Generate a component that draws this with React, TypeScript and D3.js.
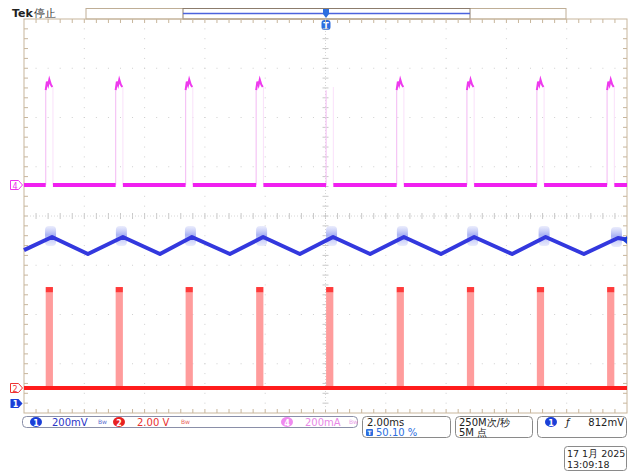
import React from 'react';
import * as d3 from 'd3';

// ---- data ----
// channel 2 (red, V): pulse start times (ms from left edge), width, high level
const redPulseStart = [0.72, 3.04, 5.36, 7.7, 10.02, 12.36, 14.69, 17.01, 19.34];
const redPulseWidth = 0.24;
const redHigh = [3.88, 4.1];
// channel 4 (magenta, mA): baseline gaps at every pulse, visible spike tops
const magGapStart = [0.72, 3.04, 5.36, 7.7, 10.02, 12.36, 14.69, 17.01, 19.34];
const magSpikeStart = [0.72, 3.04, 5.36, 7.7, 12.36, 14.69, 17.01, 19.34];
const magTopOffset = [0, 0.04, 0.08, 0.12, 0.17, 0.22];
const magTopValue = [385, 420, 405, 428, 408, 398];
// channel 1 (blue, mV): triangle vertices
const blueT = [0, 0.93, 2.12, 3.28, 4.51, 5.57, 6.83, 7.93, 9.15, 10.25, 11.48, 12.6, 13.83, 14.93, 16.19, 17.3, 18.57, 19.7, 20];
const blueMv = [625, 678, 609, 678, 609, 678, 609, 678, 609, 678, 609, 678, 609, 678, 609, 678, 609, 674, 668];

const X0 = 24, X1 = 627, Y0 = 19, Y1 = 413;
const DIVH = (Y1 - Y0) / 8;
const DIVW = (X1 - X0) / 10;

export default function App() {
  const x = d3.scaleLinear().domain([0, 20]).range([X0, X1]);
  const y1 = d3.scaleLinear().domain([0, 200]).range([404, 404 - DIVH]);
  const y2 = d3.scaleLinear().domain([0, 2]).range([388, 388 - DIVH]);
  const y4 = d3.scaleLinear().domain([0, 200]).range([185, 185 - DIVH]);

  const gridDots: JSX.Element[] = [];
  for (let i = 1; i < 10; i++) {
    if (i === 5) continue;
    const gx = X0 + i * DIVW;
    for (let k = 1; k < 40; k++) {
      gridDots.push(<rect key={`v${i}-${k}`} x={gx - 0.5} y={Y0 + (k * DIVH) / 5 - 0.5} width={1} height={1} fill="#cfcfcf" />);
    }
  }
  for (let j = 1; j < 8; j++) {
    if (j === 4) continue;
    const gy = Y0 + j * DIVH;
    for (let k = 1; k < 50; k++) {
      gridDots.push(<rect key={`h${j}-${k}`} x={X0 + (k * DIVW) / 5 - 0.5} y={gy - 0.5} width={1} height={1} fill="#cfcfcf" />);
    }
  }
  const ticks: JSX.Element[] = [];
  const cx = X0 + 5 * DIVW, cy = Y0 + 4 * DIVH;
  for (let k = 1; k < 50; k++) {
    const tx = X0 + (k * DIVW) / 5;
    ticks.push(<line key={`tt${k}`} x1={tx} x2={tx} y1={Y0} y2={Y0 + 4} />);
    ticks.push(<line key={`tb${k}`} x1={tx} x2={tx} y1={Y1} y2={Y1 - 4} />);
    ticks.push(<line key={`tc${k}`} x1={tx} x2={tx} y1={cy - 3} y2={cy + 3} stroke="#c8c8c8" />);
  }
  for (let k = 1; k < 40; k++) {
    const ty = Y0 + (k * DIVH) / 5;
    ticks.push(<line key={`tl${k}`} x1={X0} x2={X0 + 4} y1={ty} y2={ty} />);
    ticks.push(<line key={`tr${k}`} x1={X1} x2={X1 - 4} y1={ty} y2={ty} />);
    ticks.push(<line key={`tm${k}`} x1={cx - 3} x2={cx + 3} y1={ty} y2={ty} stroke="#c8c8c8" />);
  }

  const blueLine = d3.line<number>().x((_, i) => x(blueT[i])).y((d) => y1(d))(blueMv) || '';
  const peakIdx = blueMv.map((v, i) => i).filter((i) => i > 0 && i < blueMv.length - 1 && blueMv[i] > blueMv[i - 1]);

  const magEdges = [0, ...magGapStart.flatMap((s) => [s, s + redPulseWidth]), 20];
  const magBase: [number, number][] = [];
  for (let i = 0; i < magEdges.length; i += 2) magBase.push([magEdges[i], magEdges[i + 1]]);
  const topLine = d3.line<number>();

  const font = "'DejaVu Sans', 'Liberation Sans', sans-serif";
  return (
    <svg width={635} height={472} style={{ position: 'absolute', left: 0, top: 0, background: '#fff' }} fontFamily={font}>
      <defs>
        <linearGradient id="blob" x1="0" x2="0" y1="0" y2="1">
          <stop offset="0" stopColor="#c2c8f7" stopOpacity={0.35} />
          <stop offset="0.45" stopColor="#9fa9f2" stopOpacity={0.9} />
          <stop offset="1" stopColor="#c2c8f7" stopOpacity={0.35} />
        </linearGradient>
      </defs>
      <rect width={635} height={472} fill="#fff" />
      {/* header */}
      <text x={12} y={17} fontSize={11} fontWeight="bold" fill="#222">Tek</text>
      <text x={34} y={17} fontSize={11} fill="#333">停止</text>
      <rect x={86} y={8.5} width={480} height={10.5} fill="#fff" stroke="#bfae96" />
      <rect x={183} y={8.5} width={287} height={10.5} fill="none" stroke="#8c7c6c" />
      <line x1={183} x2={470} y1={13.5} y2={13.5} stroke="#4b63dd" strokeWidth={1.5} />
      <path d="M323,9 h6 v5 l-3,4 l-3,-4 z" fill="#2c6ee0" />
      <rect x={321.5} y={20} width={9} height={10} rx={3} fill="#2c6ee0" />
      <text x={326} y={28.5} fontSize={8} fontWeight="bold" fill="#fff" textAnchor="middle">T</text>

      {/* graticule */}
      {gridDots}
      <g stroke="#c8b69c" strokeWidth={1}>{ticks}</g>
      <line x1={cx} x2={cx} y1={Y0} y2={Y1} stroke="#d6d6d6" strokeDasharray="1,2" />
      <line x1={X0} x2={X1} y1={cy} y2={cy} stroke="#d6d6d6" strokeDasharray="1,2" />
      <rect x={X0} y={Y0} width={X1 - X0} height={Y1 - Y0} fill="none" stroke="#c8b69c" />

      {/* channel 4 magenta */}
      {magGapStart.map((s, i) => (
        <g key={`mv${i}`}>
          <line x1={x(s)} x2={x(s)} y1={y4(0)} y2={y4(magTopValue[0])} stroke="#f5c4f5" strokeWidth={1.2} />
          <line x1={x(s + redPulseWidth)} x2={x(s + redPulseWidth)} y1={y4(0)} y2={y4(magTopValue[magTopValue.length - 1])} stroke="#fae0fa" strokeWidth={1} />
        </g>
      ))}
      {magSpikeStart.map((s, i) => (
        <path key={`ms${i}`} d={topLine(magTopOffset.map((o, j) => [x(s + o), y4(magTopValue[j])])) || ''} fill="none" stroke="#ee3aee" strokeWidth={2} />
      ))}
      {magBase.map(([a, b], i) => (
        <line key={`mb${i}`} x1={x(a)} x2={x(b)} y1={y4(0)} y2={y4(0)} stroke="#f01ff0" strokeWidth={4} />
      ))}

      {/* channel 1 blue */}
      {peakIdx.map((i) => (
        <rect key={`bb${i}`} x={x(blueT[i]) - 7} y={y1(blueMv[i]) - 11} width={11} height={20} rx={4} fill="url(#blob)" />
      ))}
      <path d={blueLine} fill="none" stroke="#3338de" strokeWidth={4} strokeLinejoin="round" />

      {/* channel 2 red */}
      {redPulseStart.map((s, i) => (
        <g key={`rp${i}`}>
          <rect x={x(s)} y={y2(redHigh[0])} width={x(s + redPulseWidth) - x(s)} height={y2(0) - y2(redHigh[0])} fill="#ff9c9c" />
          <rect x={x(s)} y={y2(redHigh[1])} width={x(s + redPulseWidth) - x(s)} height={y2(redHigh[0]) - y2(redHigh[1])} fill="#ff3a3a" />
        </g>
      ))}
      <line x1={X0} x2={X1} y1={y2(0)} y2={y2(0)} stroke="#ff1c1c" strokeWidth={4} />

      {/* channel markers */}
      <path d="M10.5,180.5 h8 l4,4.5 l-4,4.5 h-8 z" fill="#fff" stroke="#ee33ee" />
      <text x={15} y={188.5} fontSize={8} fill="#ee33ee" textAnchor="middle">4</text>
      <path d="M10.5,383.5 h8 l4,4.5 l-4,4.5 h-8 z" fill="#fff" stroke="#ee3333" />
      <text x={15} y={391.5} fontSize={8} fill="#ee3333" textAnchor="middle">2</text>
      <path d="M10.5,399 h8 l4,4.5 l-4,4.5 h-8 z" fill="#1a3fd8" />
      <text x={15.5} y={407} fontSize={8} fontWeight="bold" fill="#fff" textAnchor="middle">1</text>
      <path d="M622,240 l5,-4 v8 z" fill="#1a3fd8" />

      {/* status bar */}
      <g fontSize={10}>
        <rect x={22.5} y={416.5} width={335} height={11} rx={4} fill="#fff" stroke="#8a8fa8" />
        <ellipse cx={36} cy={422} rx={6} ry={5} fill="#1a3fd8" />
        <text x={36} y={425.5} fontSize={8} fontWeight="bold" fill="#fff" textAnchor="middle">1</text>
        <text x={52} y={425.5} fill="#2a35c8">200mV</text>
        <text x={98} y={424} fontSize={6} fill="#5a6ad0">Bw</text>
        <ellipse cx={119} cy={422} rx={6} ry={5} fill="#e82020" />
        <text x={119} y={425.5} fontSize={8} fontWeight="bold" fill="#fff" textAnchor="middle">2</text>
        <text x={137} y={425.5} fill="#e83030">2.00 V</text>
        <text x={181} y={424} fontSize={6} fill="#e86060">Bw</text>
        <ellipse cx={287} cy={422} rx={6} ry={5} fill="#f08af0" />
        <text x={287} y={425.5} fontSize={8} fontWeight="bold" fill="#fff" textAnchor="middle">4</text>
        <text x={305} y={425.5} fill="#e888e8">200mA</text>
        <text x={349} y={424} fontSize={6} fill="#e8a0e8">Bw</text>

        <rect x={362.5} y={416.5} width={88} height={21} rx={4} fill="#fff" stroke="#8a8a8a" />
        <text x={367} y={426} fill="#222">2.00ms</text>
        <rect x={366} y={429} width={7} height={7} rx={1} fill="#2c6ee0" />
        <text x={369.5} y={435} fontSize={6} fontWeight="bold" fill="#fff" textAnchor="middle">T</text>
        <text x={376} y={436} fill="#2c6ee0">50.10 %</text>

        <rect x={455.5} y={416.5} width={77} height={21} rx={4} fill="#fff" stroke="#8a8a8a" />
        <text x={459} y={426} fill="#222">250M次/秒</text>
        <text x={459} y={436} fill="#222">5M 点</text>

        <rect x={537.5} y={416.5} width={89} height={21} rx={4} fill="#fff" stroke="#8a8a8a" />
        <ellipse cx={551} cy={422} rx={6} ry={5} fill="#1a3fd8" />
        <text x={551} y={425.5} fontSize={8} fontWeight="bold" fill="#fff" textAnchor="middle">1</text>
        <text x={566} y={426} fill="#222" fontStyle="italic">ƒ</text>
        <text x={624} y={426} fill="#222" textAnchor="end">812mV</text>

        <rect x={564.5} y={446.5} width={62} height={24} rx={3} fill="#fff" stroke="#8a8a8a" />
        <text x={567} y={457} fontSize={9.5} fill="#222">17 1月 2025</text>
        <text x={567} y={468} fontSize={9.5} fill="#222">13:09:18</text>
      </g>
    </svg>
  );
}
